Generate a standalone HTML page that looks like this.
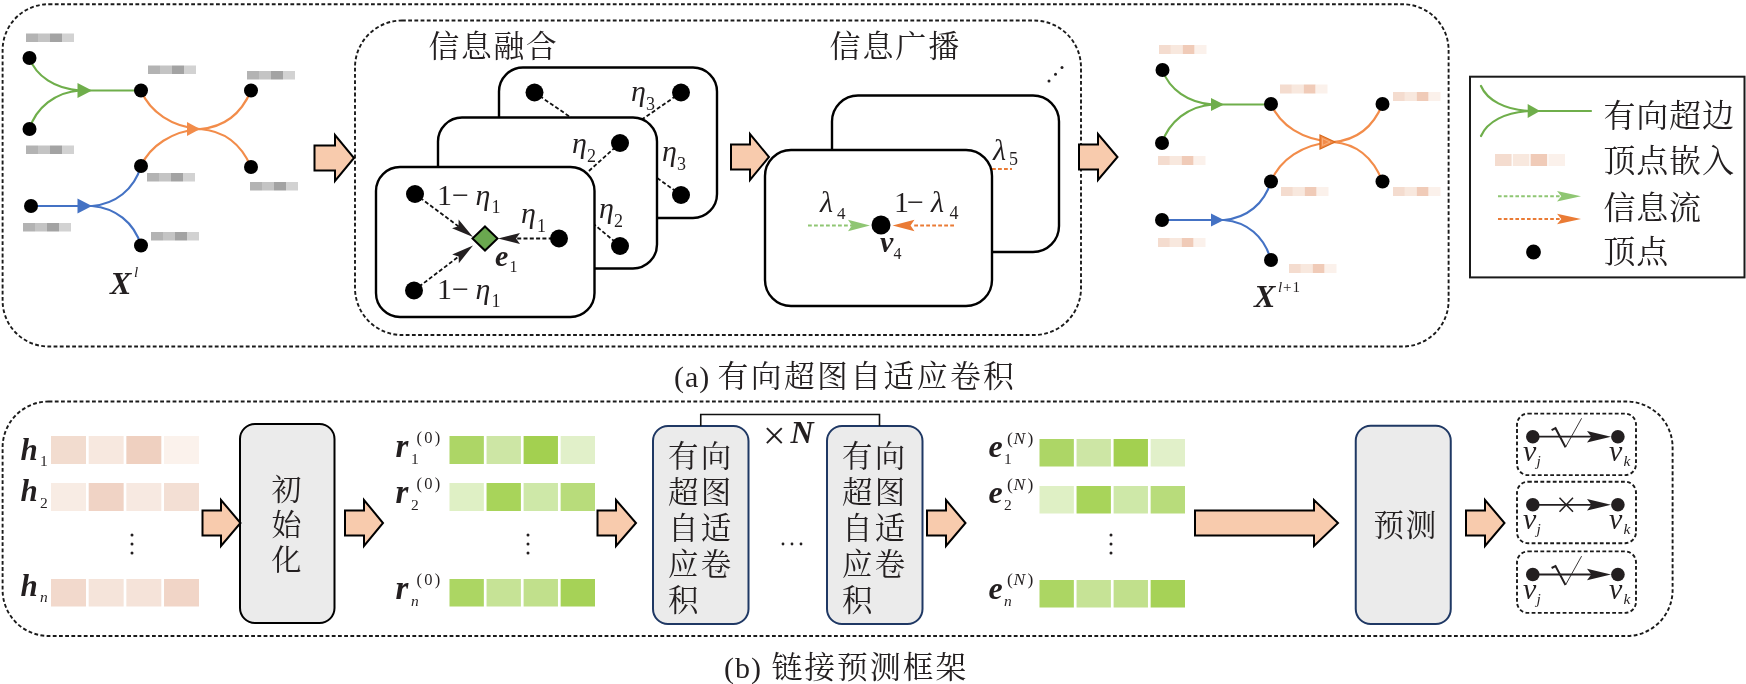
<!DOCTYPE html>
<html lang="zh"><head><meta charset="utf-8"><title>有向超图自适应卷积</title>
<style>
html,body{margin:0;padding:0;background:#fff;}
svg{display:block;will-change:transform;}
text{font-family:"Liberation Serif","Noto Serif CJK SC",serif;fill:#231f20;}
.cj{font-family:"Noto Serif CJK SC","Liberation Serif",serif;}
.i{font-style:italic;}
.bi{font-style:italic;font-weight:bold;}
.dash{fill:none;stroke:#1a1a1a;stroke-width:1.9;stroke-dasharray:3.8 2.4;}
.lat{font-family:"Liberation Serif",serif;}
.card{fill:#fff;stroke:#000;stroke-width:2.4;}
</style></head><body>
<svg width="1746" height="684" viewBox="0 0 1746 684">
<rect width="1746" height="684" fill="#fff"/>
<rect class="dash" x="2.6" y="4.2" width="1446" height="342.3" rx="46"/>
<rect class="dash" x="355" y="20.5" width="726" height="314.5" rx="47"/>
<g fill="none" stroke-width="2.2" stroke-linecap="round">
<path d="M29.5,58 C36,76 55,89 80,90.5 M29.5,129 C36,108 55,92 80,90.5 M80,90.5 L141,90.5" stroke="#6fae4b"/>
<path d="M141,90.5 C150,112 172,127 200,129 C226,127 242,112 251,90.5 M141,166 C150,146 172,131 200,129 C226,131 242,146 251,167" stroke="#f28c4a"/>
<path d="M31,206 L92,206 C115,204 134,190 141,166 M92,206 C115,208 134,222 141,245.5" stroke="#4472c4"/>
</g>
<path d="M77.5,83.0 L92,90.5 L77.5,98.0 Z" fill="#6fae4b" />
<path d="M187,122 L200,129 L187,136 Z" fill="#f28c4a" />
<path d="M77.5,198.5 L92,206 L77.5,213.5 Z" fill="#4472c4" />
<circle cx="29.5" cy="58" r="7" fill="#000"/>
<circle cx="29.5" cy="129" r="7" fill="#000"/>
<circle cx="141" cy="90.5" r="7" fill="#000"/>
<circle cx="251" cy="90.5" r="7" fill="#000"/>
<circle cx="141" cy="166" r="7" fill="#000"/>
<circle cx="251" cy="167" r="7" fill="#000"/>
<circle cx="31" cy="206" r="7" fill="#000"/>
<circle cx="141" cy="245.5" r="7" fill="#000"/>
<rect x="26.00" y="33.5" width="12.00" height="8.5" fill="#b3b3b3"/>
<rect x="38.00" y="33.5" width="12.00" height="8.5" fill="#c4c4c4"/>
<rect x="50.00" y="33.5" width="12.00" height="8.5" fill="#a3a3a3"/>
<rect x="62.00" y="33.5" width="12.00" height="8.5" fill="#d2d2d2"/>
<rect x="148.00" y="65.5" width="12.00" height="8.5" fill="#b3b3b3"/>
<rect x="160.00" y="65.5" width="12.00" height="8.5" fill="#c4c4c4"/>
<rect x="172.00" y="65.5" width="12.00" height="8.5" fill="#a3a3a3"/>
<rect x="184.00" y="65.5" width="12.00" height="8.5" fill="#d2d2d2"/>
<rect x="247.00" y="71" width="12.00" height="8.5" fill="#b3b3b3"/>
<rect x="259.00" y="71" width="12.00" height="8.5" fill="#c4c4c4"/>
<rect x="271.00" y="71" width="12.00" height="8.5" fill="#a3a3a3"/>
<rect x="283.00" y="71" width="12.00" height="8.5" fill="#d2d2d2"/>
<rect x="26.00" y="145.5" width="12.00" height="8.5" fill="#b3b3b3"/>
<rect x="38.00" y="145.5" width="12.00" height="8.5" fill="#c4c4c4"/>
<rect x="50.00" y="145.5" width="12.00" height="8.5" fill="#a3a3a3"/>
<rect x="62.00" y="145.5" width="12.00" height="8.5" fill="#d2d2d2"/>
<rect x="147.00" y="173" width="12.00" height="8.5" fill="#b3b3b3"/>
<rect x="159.00" y="173" width="12.00" height="8.5" fill="#c4c4c4"/>
<rect x="171.00" y="173" width="12.00" height="8.5" fill="#a3a3a3"/>
<rect x="183.00" y="173" width="12.00" height="8.5" fill="#d2d2d2"/>
<rect x="250.00" y="182" width="12.00" height="8.5" fill="#b3b3b3"/>
<rect x="262.00" y="182" width="12.00" height="8.5" fill="#c4c4c4"/>
<rect x="274.00" y="182" width="12.00" height="8.5" fill="#a3a3a3"/>
<rect x="286.00" y="182" width="12.00" height="8.5" fill="#d2d2d2"/>
<rect x="23.00" y="223" width="12.00" height="8.5" fill="#b3b3b3"/>
<rect x="35.00" y="223" width="12.00" height="8.5" fill="#c4c4c4"/>
<rect x="47.00" y="223" width="12.00" height="8.5" fill="#a3a3a3"/>
<rect x="59.00" y="223" width="12.00" height="8.5" fill="#d2d2d2"/>
<rect x="151.00" y="232" width="12.00" height="8.5" fill="#b3b3b3"/>
<rect x="163.00" y="232" width="12.00" height="8.5" fill="#c4c4c4"/>
<rect x="175.00" y="232" width="12.00" height="8.5" fill="#a3a3a3"/>
<rect x="187.00" y="232" width="12.00" height="8.5" fill="#d2d2d2"/>
<text x="110" y="293.5" font-size="32" class="bi" >X</text>
<text x="134" y="277" font-size="15" class="i" >l</text>
<path d="M314.5,145.5 L335,145.5 L335,135 L354,158 L335,181 L335,170.5 L314.5,170.5 Z" fill="#f8cbad" stroke="#000" stroke-width="2" stroke-linejoin="miter"/>
<text x="428.5" y="56.5" font-size="30.8" class="cj" letter-spacing="1.7">信息融合</text>
<text x="829.5" y="56.5" font-size="31" class="cj" letter-spacing="1.9">信息广播</text>
<rect class="card" x="499" y="67.5" width="218" height="150.5" rx="24"/>
<line x1="534.5" y1="92.5" x2="608" y2="143" stroke="#111" stroke-width="1.8" stroke-dasharray="4 2.3"/>
<circle cx="534.5" cy="92.5" r="9" fill="#000"/>
<line x1="681" y1="92.5" x2="608" y2="143" stroke="#111" stroke-width="1.8" stroke-dasharray="4 2.3"/>
<circle cx="681" cy="92.5" r="9" fill="#000"/>
<line x1="681" y1="195" x2="608" y2="143" stroke="#111" stroke-width="1.8" stroke-dasharray="4 2.3"/>
<circle cx="681" cy="195" r="9" fill="#000"/>
<text x="631" y="101" font-size="30" class="i" >η</text>
<text x="646" y="110" font-size="18" class="" >3</text>
<text x="662" y="161" font-size="30" class="i" >η</text>
<text x="677" y="170" font-size="18" class="" >3</text>
<rect class="card" x="438" y="117.5" width="219" height="151" rx="24"/>
<line x1="620" y1="143" x2="560" y2="197" stroke="#111" stroke-width="1.8" stroke-dasharray="4 2.3"/>
<circle cx="620" cy="143" r="9" fill="#000"/>
<line x1="620" y1="246" x2="560" y2="196" stroke="#111" stroke-width="1.8" stroke-dasharray="4 2.3"/>
<circle cx="620" cy="246" r="9" fill="#000"/>
<text x="572" y="153" font-size="30" class="i" >η</text>
<text x="587" y="162" font-size="18" class="" >2</text>
<text x="599" y="217.5" font-size="30" class="i" >η</text>
<text x="614" y="226.5" font-size="18" class="" >2</text>
<rect class="card" x="376" y="167" width="218.5" height="150" rx="24"/>
<line x1="415" y1="194" x2="462" y2="229" stroke="#111" stroke-width="1.8" stroke-dasharray="4 2.3"/>
<line x1="414" y1="290.5" x2="462" y2="254" stroke="#111" stroke-width="1.8" stroke-dasharray="4 2.3"/>
<line x1="559" y1="238.5" x2="515" y2="238.5" stroke="#111" stroke-width="1.8" stroke-dasharray="4 2.3"/>
<path d="M473.00,237.00 L458.60,219.48 L458.51,226.26 L452.05,228.32 Z" fill="#231f20"/>
<path d="M473.00,245.50 L452.17,254.47 L458.66,256.44 L458.84,263.22 Z" fill="#231f20"/>
<path d="M498.00,238.50 L520.00,244.00 L516.04,238.50 L520.00,233.00 Z" fill="#231f20"/>
<circle cx="415" cy="194" r="9" fill="#000"/>
<circle cx="414" cy="290.5" r="9" fill="#000"/>
<circle cx="559" cy="238.5" r="9" fill="#000"/>
<path d="M485,226.5 L497.5,238.5 L485,250.5 L472.5,238.5 Z" fill="#6aa84f" stroke="#000" stroke-width="2"/>
<text x="437" y="204.75" font-size="30" class="" >1</text>
<text x="452" y="204.75" font-size="30" class="" >−</text>
<text x="475.5" y="204.75" font-size="30" class="i" >η</text>
<text x="491.5" y="212.75" font-size="18" class="" >1</text>
<text x="437" y="299" font-size="30" class="" >1</text>
<text x="452" y="299" font-size="30" class="" >−</text>
<text x="475.5" y="299" font-size="30" class="i" >η</text>
<text x="491.5" y="307" font-size="18" class="" >1</text>
<text x="521" y="222.5" font-size="30" class="i" >η</text>
<text x="537" y="231.5" font-size="18" class="" >1</text>
<text x="495" y="266" font-size="30" class="bi" >e</text>
<text x="509.5" y="272" font-size="16" class="" >1</text>
<path d="M731,144.5 L750,144.5 L750,134 L769,157 L750,180 L750,169.5 L731,169.5 Z" fill="#f8cbad" stroke="#000" stroke-width="2" stroke-linejoin="miter"/>
<rect class="card" x="832" y="95.5" width="227" height="156.5" rx="26"/>
<text x="993" y="160" font-size="30" class="i" >λ</text>
<text x="1009" y="165" font-size="18" class="" >5</text>
<line x1="980" y1="169" x2="1012" y2="169" stroke="#ea7b35" stroke-width="2" stroke-dasharray="3.8 2.2"/>
<rect class="card" x="765" y="150" width="227" height="156" rx="26"/>
<line x1="808" y1="225.5" x2="852" y2="225.5" stroke="#8fc673" stroke-width="2" stroke-dasharray="3.8 2.2"/>
<path d="M870.00,225.50 L848.00,219.70 L851.96,225.50 L848.00,231.30 Z" fill="#8fc673"/>
<line x1="954" y1="225.5" x2="912" y2="225.5" stroke="#ea7b35" stroke-width="2" stroke-dasharray="3.8 2.2"/>
<path d="M892.50,225.50 L914.50,231.30 L910.54,225.50 L914.50,219.70 Z" fill="#ea7b35"/>
<circle cx="881" cy="225" r="9.5" fill="#000"/>
<text x="820" y="212" font-size="30" class="i" >λ</text>
<text x="837" y="218.5" font-size="17" class="" >4</text>
<text x="894" y="212" font-size="30" class="" >1</text>
<text x="907" y="212" font-size="30" class="" >−</text>
<text x="931" y="212" font-size="30" class="i" >λ</text>
<text x="949.5" y="218.5" font-size="18" class="" >4</text>
<text x="880" y="252" font-size="30" class="bi" >v</text>
<text x="893.5" y="258.5" font-size="16" class="" >4</text>
<circle cx="1049" cy="81" r="1.5" fill="#231f20"/>
<circle cx="1055.5" cy="74.2" r="1.5" fill="#231f20"/>
<circle cx="1062" cy="67.5" r="1.5" fill="#231f20"/>
<path d="M1079,144.5 L1098,144.5 L1098,134 L1117.5,157 L1098,180 L1098,169.5 L1079,169.5 Z" fill="#f8cbad" stroke="#000" stroke-width="2" stroke-linejoin="miter"/>
<g fill="none" stroke-width="2.2" stroke-linecap="round">
<path d="M1162.5,70 C1169,89 1188,103 1213,104.5 M1162,143 C1169,122 1188,106 1213,104.5 M1213,104.5 L1271,104.5" stroke="#6fae4b"/>
<path d="M1271,104 C1280,125 1302,140 1333,142 C1359,140 1374,125 1382.5,104 M1271,181.5 C1280,160 1302,144 1333,142 C1359,144 1374,160 1382.5,181.5" stroke="#f28c4a"/>
<path d="M1162,220 L1224,220 C1247,218 1264,204 1271,181.5 M1224,220 C1247,222 1264,236 1271,260" stroke="#4472c4"/>
</g>
<path d="M1211,98.0 L1224,104.5 L1211,111.0 Z" fill="#6fae4b" />
<path d="M1320,135 L1335,142 L1320,149 Z" fill="#f28c4a" stroke="#d96a1d" stroke-width="1.2" stroke-linejoin="miter"/>
<path d="M1322.5,138.5 L1330,142 L1322.5,145.5 Z" fill="none" stroke="#f9b98a" stroke-width="0.8"/>
<path d="M1211,213.5 L1224,220 L1211,226.5 Z" fill="#4472c4" />
<circle cx="1162.5" cy="70" r="7" fill="#000"/>
<circle cx="1162" cy="143" r="7" fill="#000"/>
<circle cx="1271" cy="104" r="7" fill="#000"/>
<circle cx="1382.5" cy="104" r="7" fill="#000"/>
<circle cx="1271" cy="181.5" r="7" fill="#000"/>
<circle cx="1382.5" cy="181.5" r="7" fill="#000"/>
<circle cx="1162" cy="220" r="7" fill="#000"/>
<circle cx="1271" cy="260" r="7" fill="#000"/>
<rect x="1159.00" y="45" width="11.88" height="9" fill="#f4dccf"/>
<rect x="1170.88" y="45" width="11.88" height="9" fill="#f8e8de"/>
<rect x="1182.75" y="45" width="11.88" height="9" fill="#f0cbb8"/>
<rect x="1194.62" y="45" width="11.88" height="9" fill="#fbf1eb"/>
<rect x="1280.00" y="84.5" width="11.88" height="9" fill="#f4dccf"/>
<rect x="1291.88" y="84.5" width="11.88" height="9" fill="#f8e8de"/>
<rect x="1303.75" y="84.5" width="11.88" height="9" fill="#f0cbb8"/>
<rect x="1315.62" y="84.5" width="11.88" height="9" fill="#fbf1eb"/>
<rect x="1393.00" y="92" width="11.88" height="9" fill="#f4dccf"/>
<rect x="1404.88" y="92" width="11.88" height="9" fill="#f8e8de"/>
<rect x="1416.75" y="92" width="11.88" height="9" fill="#f0cbb8"/>
<rect x="1428.62" y="92" width="11.88" height="9" fill="#fbf1eb"/>
<rect x="1158.00" y="156" width="11.88" height="9" fill="#f4dccf"/>
<rect x="1169.88" y="156" width="11.88" height="9" fill="#f8e8de"/>
<rect x="1181.75" y="156" width="11.88" height="9" fill="#f0cbb8"/>
<rect x="1193.62" y="156" width="11.88" height="9" fill="#fbf1eb"/>
<rect x="1281.00" y="187" width="11.88" height="9" fill="#f4dccf"/>
<rect x="1292.88" y="187" width="11.88" height="9" fill="#f8e8de"/>
<rect x="1304.75" y="187" width="11.88" height="9" fill="#f0cbb8"/>
<rect x="1316.62" y="187" width="11.88" height="9" fill="#fbf1eb"/>
<rect x="1393.00" y="187" width="11.88" height="9" fill="#f4dccf"/>
<rect x="1404.88" y="187" width="11.88" height="9" fill="#f8e8de"/>
<rect x="1416.75" y="187" width="11.88" height="9" fill="#f0cbb8"/>
<rect x="1428.62" y="187" width="11.88" height="9" fill="#fbf1eb"/>
<rect x="1158.00" y="238" width="11.88" height="9" fill="#f4dccf"/>
<rect x="1169.88" y="238" width="11.88" height="9" fill="#f8e8de"/>
<rect x="1181.75" y="238" width="11.88" height="9" fill="#f0cbb8"/>
<rect x="1193.62" y="238" width="11.88" height="9" fill="#fbf1eb"/>
<rect x="1289.00" y="264" width="11.88" height="9" fill="#f4dccf"/>
<rect x="1300.88" y="264" width="11.88" height="9" fill="#f8e8de"/>
<rect x="1312.75" y="264" width="11.88" height="9" fill="#f0cbb8"/>
<rect x="1324.62" y="264" width="11.88" height="9" fill="#fbf1eb"/>
<text x="1254" y="307" font-size="32" class="bi" >X</text>
<text x="1278" y="292" font-size="15" class="i" >l</text>
<text x="1283" y="292" font-size="15" class="" >+</text>
<text x="1292.5" y="292" font-size="15" class="" >1</text>
<rect x="1470" y="76.7" width="274.5" height="200.7" fill="#fff" stroke="#1a1a1a" stroke-width="2"/>
<path d="M1481,86 C1487,100 1505,110 1530,111 M1481,136 C1487,122 1505,112 1530,111 M1530,111 L1591,111" fill="none" stroke="#6fae4b" stroke-width="2.2" stroke-linecap="round"/>
<path d="M1527.7,104 L1540,111 L1527.7,118 Z" fill="#6fae4b" />
<rect x="1495.00" y="154" width="16.60" height="12" fill="#f4dccf"/>
<rect x="1512.80" y="154" width="16.60" height="12" fill="#f8e8de"/>
<rect x="1530.60" y="154" width="16.60" height="12" fill="#f0cbb8"/>
<rect x="1548.40" y="154" width="16.60" height="12" fill="#fbf1eb"/>
<line x1="1498" y1="196.3" x2="1560" y2="196.3" stroke="#8fc673" stroke-width="2" stroke-dasharray="3.6 2.2"/>
<path d="M1581.00,196.30 L1557.00,191.00 L1561.32,196.30 L1557.00,201.60 Z" fill="#8fc673"/>
<line x1="1498" y1="219" x2="1560" y2="219" stroke="#ea7b35" stroke-width="2" stroke-dasharray="3.6 2.2"/>
<path d="M1581.00,219.00 L1557.00,213.70 L1561.32,219.00 L1557.00,224.30 Z" fill="#ea7b35"/>
<circle cx="1533.5" cy="252" r="7.4" fill="#000"/>
<text x="1603.5" y="127" font-size="32" class="cj" letter-spacing="0.8">有向超边</text>
<text x="1603.5" y="171.5" font-size="32" class="cj" letter-spacing="0.8">顶点嵌入</text>
<text x="1603.5" y="219" font-size="32" class="cj" letter-spacing="0.8">信息流</text>
<text x="1603.5" y="263" font-size="32" class="cj" letter-spacing="0.8">顶点</text>
<text class="cj" font-size="30.8" y="386.5" letter-spacing="2.4"><tspan class="lat" x="674" font-size="30" letter-spacing="1">(a)</tspan><tspan x="717.5">有向超图自适应卷积</tspan></text>
<text class="cj" font-size="30.8" y="677.5" letter-spacing="2"><tspan class="lat" x="724" font-size="30" letter-spacing="1">(b)</tspan><tspan x="771.5">链接预测框架</tspan></text>
<rect class="dash" x="2.6" y="401.5" width="1670" height="234.5" rx="46"/>
<rect x="51.00" y="436" width="34.98" height="28" fill="#f2dccf"/>
<rect x="88.68" y="436" width="34.98" height="28" fill="#f7e8df"/>
<rect x="126.35" y="436" width="34.98" height="28" fill="#efd0c0"/>
<rect x="164.03" y="436" width="34.98" height="28" fill="#fbf2ec"/>
<rect x="51.00" y="483" width="34.98" height="28" fill="#f8ece4"/>
<rect x="88.68" y="483" width="34.98" height="28" fill="#f0d3c5"/>
<rect x="126.35" y="483" width="34.98" height="28" fill="#f7e9e1"/>
<rect x="164.03" y="483" width="34.98" height="28" fill="#f3dfd4"/>
<rect x="51.00" y="579" width="34.98" height="27.5" fill="#f2d9cc"/>
<rect x="88.68" y="579" width="34.98" height="27.5" fill="#f5e4da"/>
<rect x="126.35" y="579" width="34.98" height="27.5" fill="#f5e3d9"/>
<rect x="164.03" y="579" width="34.98" height="27.5" fill="#f1d5c7"/>
<text x="20.5" y="459.5" font-size="31" class="bi" >h</text>
<text x="40" y="466.0" font-size="15.5" class="" >1</text>
<text x="20.5" y="501" font-size="31" class="bi" >h</text>
<text x="40" y="507.5" font-size="15.5" class="" >2</text>
<text x="20.5" y="595.5" font-size="31" class="bi" >h</text>
<text x="40" y="602.0" font-size="15.5" class="i" >n</text>
<rect x="449.50" y="436" width="34.35" height="28" fill="#add666"/>
<rect x="486.55" y="436" width="34.35" height="28" fill="#cde6a5"/>
<rect x="523.60" y="436" width="34.35" height="28" fill="#a3d050"/>
<rect x="560.65" y="436" width="34.35" height="28" fill="#e1f0c9"/>
<rect x="449.50" y="483" width="34.35" height="28" fill="#dff0c5"/>
<rect x="486.55" y="483" width="34.35" height="28" fill="#a8d45a"/>
<rect x="523.60" y="483" width="34.35" height="28" fill="#cee8a8"/>
<rect x="560.65" y="483" width="34.35" height="28" fill="#b8dc7b"/>
<rect x="449.50" y="579" width="34.35" height="27.5" fill="#acd663"/>
<rect x="486.55" y="579" width="34.35" height="27.5" fill="#c6e396"/>
<rect x="523.60" y="579" width="34.35" height="27.5" fill="#c1e08c"/>
<rect x="560.65" y="579" width="34.35" height="27.5" fill="#a6d257"/>
<text x="395.5" y="457" font-size="33" class="bi" >r</text>
<text x="411" y="464" font-size="15.5" class="" >1</text>
<text x="416.5" y="443" font-size="16.5" class="" letter-spacing="2.3">(0)</text>
<text x="395.5" y="503" font-size="33" class="bi" >r</text>
<text x="411" y="510" font-size="15.5" class="" >2</text>
<text x="416.5" y="489" font-size="16.5" class="" letter-spacing="2.3">(0)</text>
<text x="395.5" y="599" font-size="33" class="bi" >r</text>
<text x="411" y="606" font-size="15.5" class="i" >n</text>
<text x="416.5" y="585" font-size="16.5" class="" letter-spacing="2.3">(0)</text>
<rect x="1039.50" y="439" width="34.35" height="27.5" fill="#add666"/>
<rect x="1076.55" y="439" width="34.35" height="27.5" fill="#cde6a5"/>
<rect x="1113.60" y="439" width="34.35" height="27.5" fill="#a3d050"/>
<rect x="1150.65" y="439" width="34.35" height="27.5" fill="#e1f0c9"/>
<rect x="1039.50" y="486" width="34.35" height="27.5" fill="#dff0c5"/>
<rect x="1076.55" y="486" width="34.35" height="27.5" fill="#a8d45a"/>
<rect x="1113.60" y="486" width="34.35" height="27.5" fill="#cee8a8"/>
<rect x="1150.65" y="486" width="34.35" height="27.5" fill="#b8dc7b"/>
<rect x="1039.50" y="580" width="34.35" height="27.5" fill="#acd663"/>
<rect x="1076.55" y="580" width="34.35" height="27.5" fill="#c6e396"/>
<rect x="1113.60" y="580" width="34.35" height="27.5" fill="#c1e08c"/>
<rect x="1150.65" y="580" width="34.35" height="27.5" fill="#a6d257"/>
<text x="988.5" y="457" font-size="32" class="bi" >e</text>
<text x="1004" y="464" font-size="15.5" class="" >1</text>
<text x="1007" y="443.5" font-size="17.5" class="" >(</text>
<text x="1013.5" y="443.5" font-size="17.5" class="i" >N</text>
<text x="1027.5" y="443.5" font-size="17.5" class="" >)</text>
<text x="988.5" y="503" font-size="32" class="bi" >e</text>
<text x="1004" y="510" font-size="15.5" class="" >2</text>
<text x="1007" y="489.5" font-size="17.5" class="" >(</text>
<text x="1013.5" y="489.5" font-size="17.5" class="i" >N</text>
<text x="1027.5" y="489.5" font-size="17.5" class="" >)</text>
<text x="988.5" y="598.5" font-size="32" class="bi" >e</text>
<text x="1004" y="605.5" font-size="15.5" class="i" >n</text>
<text x="1007" y="585.0" font-size="17.5" class="" >(</text>
<text x="1013.5" y="585.0" font-size="17.5" class="i" >N</text>
<text x="1027.5" y="585.0" font-size="17.5" class="" >)</text>
<circle cx="132" cy="535" r="1.5" fill="#231f20"/>
<circle cx="132" cy="544" r="1.5" fill="#231f20"/>
<circle cx="132" cy="553" r="1.5" fill="#231f20"/>
<circle cx="528" cy="535" r="1.5" fill="#231f20"/>
<circle cx="528" cy="544" r="1.5" fill="#231f20"/>
<circle cx="528" cy="553" r="1.5" fill="#231f20"/>
<circle cx="1111" cy="535" r="1.5" fill="#231f20"/>
<circle cx="1111" cy="544" r="1.5" fill="#231f20"/>
<circle cx="1111" cy="553" r="1.5" fill="#231f20"/>
<circle cx="783" cy="544" r="1.4" fill="#231f20"/>
<circle cx="792" cy="544" r="1.4" fill="#231f20"/>
<circle cx="801" cy="544" r="1.4" fill="#231f20"/>
<rect x="240" y="424" width="94.5" height="199" rx="15" fill="#ebebeb" stroke="#000" stroke-width="2"/>
<text x="271.5" y="500" font-size="30" class="cj" >初</text>
<text x="271.5" y="535" font-size="30" class="cj" >始</text>
<text x="271.5" y="570" font-size="30" class="cj" >化</text>
<rect x="653" y="426" width="95.5" height="198" rx="15" fill="#ebebeb" stroke="#1f3864" stroke-width="2"/>
<text x="668" y="466.5" font-size="30.5" class="cj" letter-spacing="2.2">有向</text>
<text x="668" y="502.5" font-size="30.5" class="cj" letter-spacing="2.2">超图</text>
<text x="668" y="538.5" font-size="30.5" class="cj" letter-spacing="2.2">自适</text>
<text x="668" y="574.5" font-size="30.5" class="cj" letter-spacing="2.2">应卷</text>
<text x="668" y="610.5" font-size="30.5" class="cj" letter-spacing="2.2">积</text>
<rect x="827" y="426" width="95.5" height="198" rx="15" fill="#ebebeb" stroke="#1f3864" stroke-width="2"/>
<text x="842" y="466.5" font-size="30.5" class="cj" letter-spacing="2.2">有向</text>
<text x="842" y="502.5" font-size="30.5" class="cj" letter-spacing="2.2">超图</text>
<text x="842" y="538.5" font-size="30.5" class="cj" letter-spacing="2.2">自适</text>
<text x="842" y="574.5" font-size="30.5" class="cj" letter-spacing="2.2">应卷</text>
<text x="842" y="610.5" font-size="30.5" class="cj" letter-spacing="2.2">积</text>
<path d="M700.75,426 V414.5 H879.5 V426" fill="none" stroke="#111" stroke-width="1.6"/>
<text x="763" y="448.5" font-size="40" class="" >×</text>
<text x="790.5" y="443" font-size="32" class="bi" >N</text>
<rect x="1355.75" y="425.75" width="95" height="198.25" rx="15" fill="#ebebeb" stroke="#1f3864" stroke-width="2"/>
<text x="1373.5" y="536" font-size="30.5" class="cj" letter-spacing="1.8">预测</text>
<path d="M202.5,510.5 L221,510.5 L221,500 L240.5,523 L221,546 L221,535.5 L202.5,535.5 Z" fill="#f8cbad" stroke="#000" stroke-width="2" stroke-linejoin="miter"/>
<path d="M345,510.5 L364,510.5 L364,500 L383,523 L364,546 L364,535.5 L345,535.5 Z" fill="#f8cbad" stroke="#000" stroke-width="2" stroke-linejoin="miter"/>
<path d="M597.5,510.5 L616,510.5 L616,500 L636,523 L616,546 L616,535.5 L597.5,535.5 Z" fill="#f8cbad" stroke="#000" stroke-width="2" stroke-linejoin="miter"/>
<path d="M927,510.5 L946,510.5 L946,500 L965.5,523 L946,546 L946,535.5 L927,535.5 Z" fill="#f8cbad" stroke="#000" stroke-width="2" stroke-linejoin="miter"/>
<path d="M1195,510.5 L1314,510.5 L1314,500 L1338,523 L1314,546 L1314,535.5 L1195,535.5 Z" fill="#f8cbad" stroke="#000" stroke-width="2" stroke-linejoin="miter"/>
<path d="M1466,510.5 L1485,510.5 L1485,500 L1504.5,523 L1485,546 L1485,535.5 L1466,535.5 Z" fill="#f8cbad" stroke="#000" stroke-width="2" stroke-linejoin="miter"/>
<rect class="dash" x="1517" y="413.6" width="119" height="61.5" rx="11"/>
<line x1="1533" y1="436.70000000000005" x2="1592" y2="436.70000000000005" stroke="#231f20" stroke-width="1.8"/>
<path d="M1611.00,436.70 L1587.00,430.90 L1591.32,436.70 L1587.00,442.50 Z" fill="#231f20"/>
<circle cx="1532.8" cy="436.70000000000005" r="6.8" fill="#231f20"/>
<circle cx="1617.9" cy="436.70000000000005" r="6.8" fill="#231f20"/>
<path d="M1551.6,430.20000000000005 L1555.5,428.20000000000005 L1565.5,447.20000000000005" fill="none" stroke="#231f20" stroke-width="2"/>
<path d="M1565.5,447.20000000000005 L1581.6,418.30000000000007" fill="none" stroke="#231f20" stroke-width="0.9"/>
<text x="1523" y="461.00000000000006" font-size="30" class="i" >v</text>
<text x="1536.5" y="466.20000000000005" font-size="15.5" class="i" >j</text>
<text x="1609" y="461.00000000000006" font-size="30" class="i" >v</text>
<text x="1623.5" y="466.20000000000005" font-size="15.5" class="i" >k</text>
<rect class="dash" x="1517" y="481.7" width="119" height="61.5" rx="11"/>
<line x1="1533" y1="504.8" x2="1592" y2="504.8" stroke="#231f20" stroke-width="1.8"/>
<path d="M1611.00,504.80 L1587.00,499.00 L1591.32,504.80 L1587.00,510.60 Z" fill="#231f20"/>
<circle cx="1532.8" cy="504.8" r="6.8" fill="#231f20"/>
<circle cx="1617.9" cy="504.8" r="6.8" fill="#231f20"/>
<path d="M1559.5,497.8 L1573,511.8 M1573,497.8 L1559.5,511.8" fill="none" stroke="#231f20" stroke-width="1.5"/>
<text x="1523" y="529.1" font-size="30" class="i" >v</text>
<text x="1536.5" y="534.3" font-size="15.5" class="i" >j</text>
<text x="1609" y="529.1" font-size="30" class="i" >v</text>
<text x="1623.5" y="534.3" font-size="15.5" class="i" >k</text>
<rect class="dash" x="1517" y="551.4" width="119" height="61.5" rx="11"/>
<line x1="1533" y1="574.5" x2="1592" y2="574.5" stroke="#231f20" stroke-width="1.8"/>
<path d="M1611.00,574.50 L1587.00,568.70 L1591.32,574.50 L1587.00,580.30 Z" fill="#231f20"/>
<circle cx="1532.8" cy="574.5" r="6.8" fill="#231f20"/>
<circle cx="1617.9" cy="574.5" r="6.8" fill="#231f20"/>
<path d="M1551.6,568.0 L1555.5,566.0 L1565.5,585.0" fill="none" stroke="#231f20" stroke-width="2"/>
<path d="M1565.5,585.0 L1581.6,556.1" fill="none" stroke="#231f20" stroke-width="0.9"/>
<text x="1523" y="598.8" font-size="30" class="i" >v</text>
<text x="1536.5" y="604.0" font-size="15.5" class="i" >j</text>
<text x="1609" y="598.8" font-size="30" class="i" >v</text>
<text x="1623.5" y="604.0" font-size="15.5" class="i" >k</text>
</svg></body></html>
